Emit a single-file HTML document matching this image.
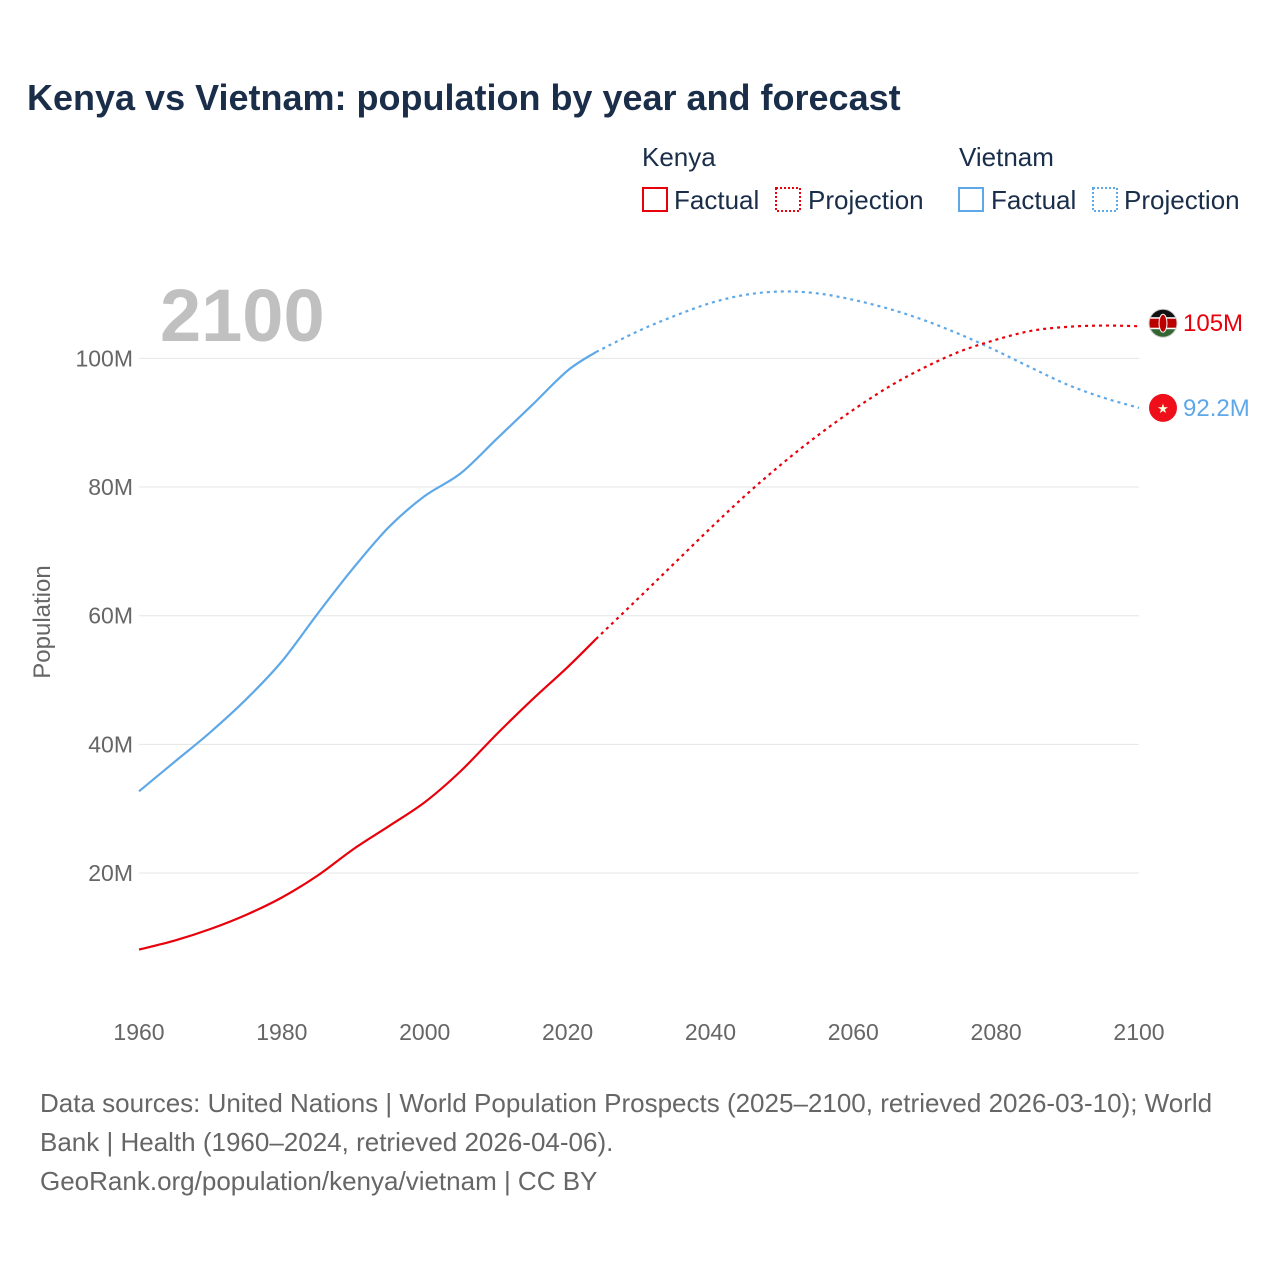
<!DOCTYPE html>
<html><head><meta charset="utf-8"><style>
body{margin:0;background:#fff;font-family:"Liberation Sans",sans-serif;}
svg text{font-family:"Liberation Sans",sans-serif;}
</style></head><body>
<svg width="1280" height="1280" viewBox="0 0 1280 1280">
<rect width="1280" height="1280" fill="#fff"/>
<text x="27" y="110" font-size="36" font-weight="bold" fill="#1a2e4a">Kenya vs Vietnam: population by year and forecast</text>
<g font-size="26" fill="#1a2e4a">
<text x="642" y="166">Kenya</text>
<text x="959" y="166">Vietnam</text>
<rect x="643" y="188" width="24" height="23" fill="none" stroke="#e8000b" stroke-width="2"/>
<text x="674" y="209">Factual</text>
<rect x="776" y="188" width="24" height="23" fill="none" stroke="#e8000b" stroke-width="2" stroke-dasharray="2,2"/>
<text x="808" y="209">Projection</text>
<rect x="959" y="188" width="24" height="23" fill="none" stroke="#5fa8e8" stroke-width="2"/>
<text x="991" y="209">Factual</text>
<rect x="1093" y="188" width="24" height="23" fill="none" stroke="#5fa8e8" stroke-width="2" stroke-dasharray="2,2"/>
<text x="1124" y="209">Projection</text>
</g>
<text x="160" y="341" font-size="74" font-weight="bold" fill="#c0c0c0">2100</text>
<g id="grid"></g>
<g id="axes"></g>
<g id="series"></g>
<text transform="translate(50,622) rotate(-90)" text-anchor="middle" font-size="24" fill="#666">Population</text>
<g id="markers"></g>
<g font-size="26" fill="#666">
<text x="40" y="1112">Data sources: United Nations | World Population Prospects (2025–2100, retrieved 2026-03-10); World</text>
<text x="40" y="1151">Bank | Health (1960–2024, retrieved 2026-04-06).</text>
<text x="40" y="1190">GeoRank.org/population/kenya/vietnam | CC BY</text>
</g>
</svg>
<script>
const xTicks=[1960,1980,2000,2020,2040,2060,2080,2100];
const yTicks=[20,40,60,80,100];
const factYears=[1960,1965,1970,1975,1980,1985,1990,1995,2000,2005,2010,2015,2020,2024];
const projYears=[2024,2030,2035,2040,2045,2050,2055,2060,2065,2070,2075,2080,2085,2090,2095,2100];
const kenyaFact=[8.1,9.5,11.3,13.5,16.2,19.6,23.7,27.3,31.0,35.8,41.5,46.9,52.0,56.4];
const kenyaProj=[56.4,62.8,68.2,73.6,78.8,83.6,88.0,92.0,95.6,98.6,101.1,102.9,104.3,104.9,105.1,105.0];
const vietFact=[32.7,37.3,41.9,47.0,52.9,60.3,67.4,73.8,78.6,82.1,87.4,92.7,98.1,101.0];
const vietProj=[101.0,104.3,106.6,108.6,109.9,110.4,110.1,109.1,107.7,105.9,103.7,101.2,98.5,95.9,93.9,92.3];
const NS="http://www.w3.org/2000/svg";
const X=y=>139+(y-1960)*1000/140;
const Y=v=>1001.7-v*6.4333;
function mk(t,a,p){const e=document.createElementNS(NS,t);for(const k in a)e.setAttribute(k,a[k]);document.getElementById(p).appendChild(e);return e;}
yTicks.forEach(v=>{
 const l=mk('line',{x1:139,x2:1139,y1:Y(v),y2:Y(v),stroke:'#e6e6e6','stroke-width':1},'grid');
 
 
 const t=mk('text',{x:133,y:Y(v)+8,'text-anchor':'end','font-size':23,fill:'#666'},'axes');
 t.textContent=v+'M';
 
 
});
xTicks.forEach(v=>{
 const t=mk('text',{x:X(v),y:1040,'text-anchor':'middle','font-size':23,fill:'#666'},'axes');
 t.textContent=v;
 
 
});
function path(xs,vs){
 const p=xs.map((x,i)=>[X(x),Y(vs[i])]);
 let d='M'+p[0][0]+','+p[0][1];
 for(let i=0;i<p.length-1;i++){
  const p0=p[i-1]||p[i],p1=p[i],p2=p[i+1],p3=p[i+2]||p2;
  d+=' C'+(p1[0]+(p2[0]-p0[0])/6)+','+(p1[1]+(p2[1]-p0[1])/6)+' '+(p2[0]-(p3[0]-p1[0])/6)+','+(p2[1]-(p3[1]-p1[1])/6)+' '+p2[0]+','+p2[1];
 }
 return d;
}
function line(xs,vs,c,dash,name){
 const e=mk('path',{d:path(xs,vs),fill:'none',stroke:c,'stroke-width':2.2},'series');
 if(dash)e.setAttribute('stroke-dasharray','3,4');
 
 
}
line(factYears,vietFact,'#5fa8e8',false,'vietnam-factual-line');
line(projYears,vietProj,'#5fa8e8',true,'vietnam-projection-line');
line(factYears,kenyaFact,'#e8000b',false,'kenya-factual-line');
line(projYears,kenyaProj,'#e8000b',true,'kenya-projection-line');
const kL=kenyaProj[kenyaProj.length-1], vL=vietProj[vietProj.length-1];
const kY=Y(kL)-3, vY=Y(vL);
const m=document.getElementById('markers');
m.innerHTML=`
<g>
<clipPath id="kc"><circle cx="1163" cy="${kY}" r="14"/></clipPath>
<g clip-path="url(#kc)"><rect x="1149" y="${kY-14}" width="28" height="9" fill="#111"/><rect x="1149" y="${kY-5}" width="28" height="10" fill="#b00"/><rect x="1149" y="${kY+5}" width="28" height="9" fill="#363"/>
<rect x="1149" y="${kY-6}" width="28" height="1.5" fill="#fff"/><rect x="1149" y="${kY+4.5}" width="28" height="1.5" fill="#fff"/>
<ellipse cx="1163" cy="${kY}" rx="4" ry="9" fill="#b00" stroke="#fff" stroke-width="1"/></g>
<circle cx="1163" cy="${kY}" r="14" fill="none" stroke="#ccc" stroke-width="1"/></g>
<g>
<circle cx="1163" cy="${vY}" r="14" fill="#ee0f1a"/>
<text x="1163" y="${vY+5}" text-anchor="middle" font-size="13" fill="#ffd">★</text></g>`;
let t=mk('text',{x:1183,y:kY+8,'font-size':24,fill:'#e8000b'},'markers');
t.textContent=Math.round(kL)+'M';


t=mk('text',{x:1183,y:vY+8,'font-size':24,fill:'#5fa8e8'},'markers');
t.textContent='92.2M';


</script>
</body></html>
